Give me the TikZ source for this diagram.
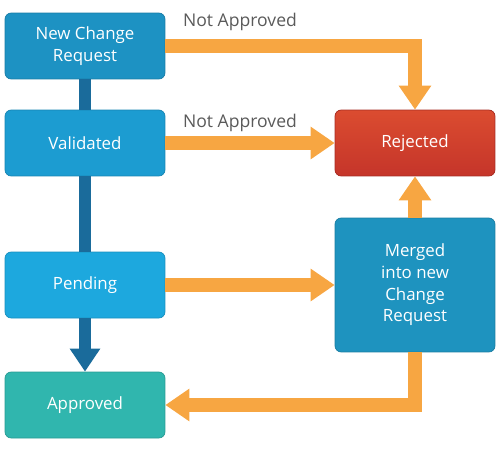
\documentclass[tikz,border=0pt]{standalone}
\usepackage{fontspec}
\setmainfont{Open Sans}
\usepackage{tikz}
\usetikzlibrary{arrows.meta,positioning}
\definecolor{ink}{HTML}{5A5A5A}
\definecolor{cnew}{HTML}{1D92C3}
\definecolor{cval}{HTML}{1C9CD1}
\definecolor{cpend}{HTML}{1DA8DE}
\definecolor{cappr}{HTML}{30B6AE}
\definecolor{cmerge}{HTML}{1E93BF}
\definecolor{credtop}{HTML}{DB4C30}
\definecolor{credbot}{HTML}{C5352A}
\definecolor{spine}{HTML}{1A6B9B}
\definecolor{corange}{HTML}{F7A642}
\tikzset{
  stage/.style={rounded corners=3.5pt, draw=#1!85!black, line width=0.4pt, fill=#1, text=white, minimum width=3.2cm, minimum height=1.32cm, align=center, font=\fontsize{9.6}{12.3}\selectfont},
  spineline/.style={line width=0.24cm, draw=spine},
  spineflow/.style={spineline, -{Triangle[width=0.58cm, length=0.46cm]}},
  flow/.style={line width=0.28cm, draw=corange, line join=miter, -{Triangle[width=0.62cm, length=0.48cm]}},
  tag/.style={text=ink, font=\fontsize{10}{12}\selectfont},
}
\begin{document}
\begin{tikzpicture}[x=0.02cm, y=-0.02cm]
  \useasboundingbox (0,0) rectangle (500,450);
  \node[stage=cnew](new) at (85,46){New Change\\Request};
  \node[stage=cval](val) at (85,143){Validated};
  \node[stage=cpend](pend) at (85,285){Pending};
  \node[stage=cappr](appr) at (85,405){Approved};
  \node[stage=credbot, top color=credtop, bottom color=credbot](rej) at (415,143){Rejected};
  \node[stage=cmerge, minimum height=2.68cm](merge) at (415,285){Merged\\into new\\Change\\Request};
  % main line down the left
  \draw[spineline](new)--(val);
  \draw[spineline](val)--(pend);
  \draw[spineflow](pend)--(appr);
  % orange arrows
  \draw[flow](new.east) -| (rej.north);
  \draw[flow](val)--(rej);
  \draw[flow](pend)--(merge);
  \draw[flow](merge)--(rej);
  \draw[flow](merge.south) |- (appr.east);
  \node[tag](na1) at (240,22){Not Approved};
  \node[tag](na2) at (240,123){Not Approved};
\end{tikzpicture}
\end{document}
